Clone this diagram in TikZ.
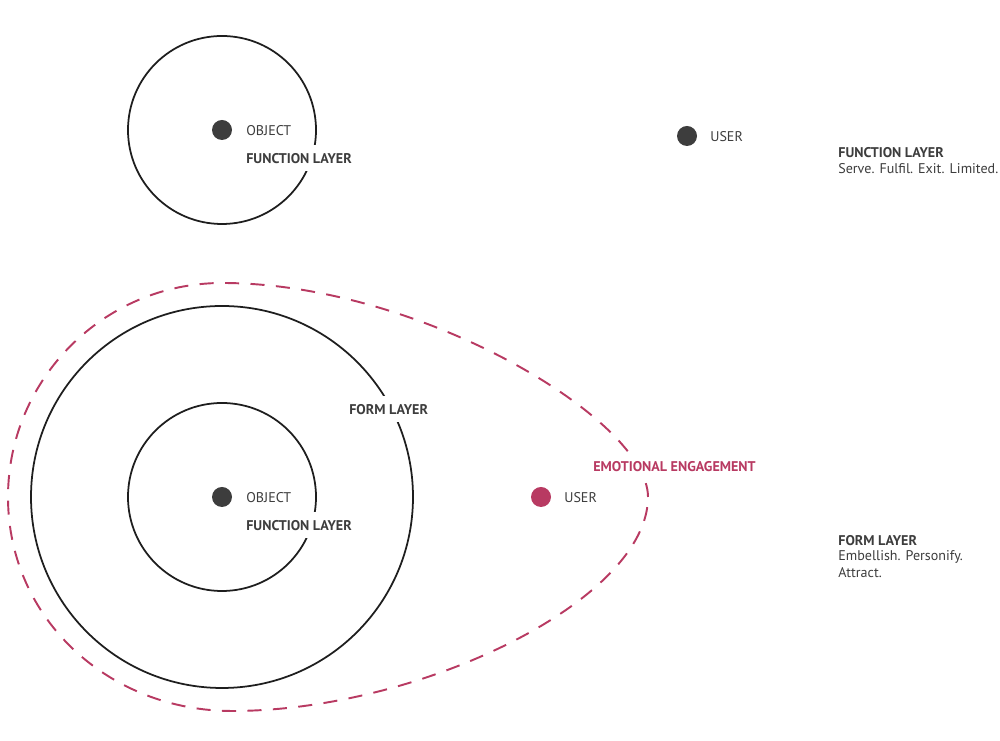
\documentclass[tikz,border=0pt]{standalone}
\usepackage{fontspec}
\setmainfont{PT Sans}
\definecolor{ink}{HTML}{3D3D3D}
\definecolor{line}{HTML}{1E1E1E}
\definecolor{engage}{HTML}{B83A62}
\begin{document}
\begin{tikzpicture}
			\tikzstyle{dot}=[circle,fill=ink,minimum size=0.4cm,inner sep=0pt]
			\tikzstyle{txt}=[anchor=west,inner sep=0pt,text=ink,font=\fontsize{8}{9}\selectfont]
			\tikzstyle{head}=[txt,font=\fontsize{8}{9}\selectfont\bfseries]
			\tikzstyle{cut}=[head,fill=white,inner ysep=4.5pt,text height=6pt,text depth=0pt]
			\useasboundingbox (0,0) rectangle (20,14.82);
			\draw[line,line width=1pt] (4.44,12.22) circle (1.88) (4.44,4.88) circle (3.82) (4.44,4.88) circle (1.88);
			\draw[engage,line width=1.1pt,dash pattern=on 8pt off 6.5pt] (12.96,4.88) .. controls (12.96,6.42) and (8.40,9.16) .. (4.44,9.16) .. controls (2.08,9.16) and (0.16,7.24) .. (0.16,4.88) .. controls (0.16,2.42) and (2.20,0.60) .. (4.64,0.60) .. controls (8.40,0.60) and (12.96,2.82) .. (12.96,4.88);
			\node[dot] (obj_1) at (4.44,12.22) {};
			\node[dot] (user_1) at (13.74,12.1) {};
			\node[dot] (obj_2) at (4.44,4.88) {};
			\node[dot,fill=engage] (user_2) at (10.82,4.88) {};
			\node[txt] (obj_1_t) at (4.92,12.2) {OBJECT};
			\node[cut] (fn_1) at (4.92,11.66) {FUNCTION LAYER};
			\node[txt] (user_1_t) at (14.2,12.08) {USER};
			\node[cut] (form) at (6.98,6.64) {FORM LAYER};
			\node[txt] (obj_2_t) at (4.92,4.86) {OBJECT};
			\node[cut] (fn_2) at (4.92,4.32) {FUNCTION LAYER};
			\node[cut,text=engage] (emo) at (11.86,5.5) {EMOTIONAL ENGAGEMENT};
			\node[txt] (user_2_t) at (11.28,4.86) {USER};
			\node[head] (key_1) at (16.76,11.76) {FUNCTION LAYER};
			\node[txt] (key_1_a) at (16.76,11.44) {Serve. Fulfil. Exit. Limited.};
			\node[head] (key_2) at (16.76,4.0) {FORM LAYER};
			\node[txt] (key_2_a) at (16.76,3.68) {Embellish. Personify.};
			\node[txt] (key_2_b) at (16.76,3.36) {Attract.};
		\end{tikzpicture}
\end{document}
